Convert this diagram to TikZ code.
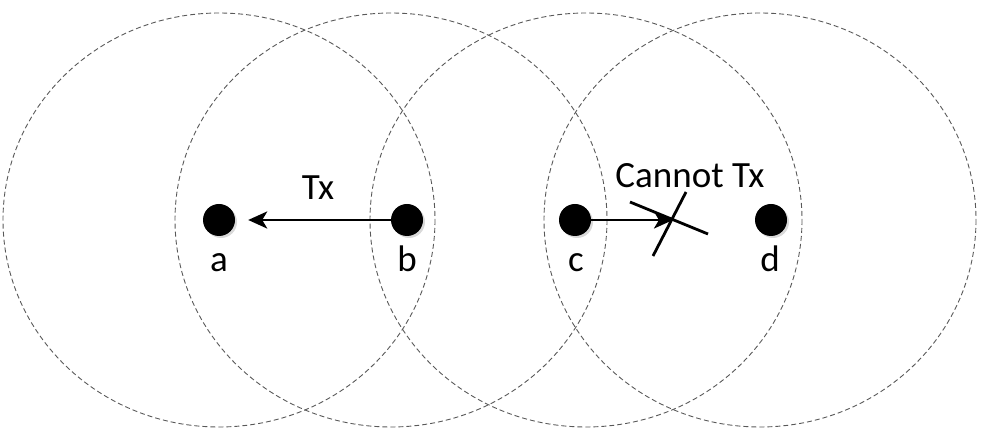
\documentclass[tikz,border=0pt]{standalone}
\usepackage{fontspec}
\setmainfont{Carlito}
\usetikzlibrary{arrows.meta}
\begin{document}
\begin{tikzpicture}[x=1pt,y=-1pt,
  rangering/.style={draw=black!65,line width=0.9pt,dash pattern=on 5pt off 3pt},
  nodedot/.style={circle,fill=black,minimum size=32pt,inner sep=0pt},
  dotshadow/.style={circle,fill=black!15,minimum size=32pt,inner sep=0pt},
  lbl/.style={font=\fontsize{37}{42}\selectfont,anchor=base,inner sep=0pt},
  txlink/.style={line width=2.8pt,-{Stealth[length=19pt,width=17pt,inset=5pt]}},
  crossline/.style={line width=2.8pt}]
\useasboundingbox (0,0) rectangle (991,435);
\draw[rangering] (219,220) ellipse [x radius=216, y radius=207];
\draw[rangering] (391,220) ellipse [x radius=216, y radius=207];
\draw[rangering] (586,220) ellipse [x radius=216, y radius=207];
\draw[rangering] (760,220) ellipse [x radius=216, y radius=207];
\node[dotshadow] (sa) at (221,222) {};
\node[dotshadow] (sb) at (409,222) {};
\node[dotshadow] (sc) at (577,222) {};
\node[dotshadow] (sd) at (773,222) {};
\node[nodedot] (a) at (219,220) {};
\node[nodedot] (b) at (407,220) {};
\node[nodedot] (c) at (575,220) {};
\node[nodedot] (d) at (771,220) {};
\node[lbl] (la) at (219,272) {a};
\node[lbl] (lb) at (407,272) {b};
\node[lbl] (lc) at (576,272) {c};
\node[lbl] (ld) at (770,272) {d};
\draw[txlink,shorten >=13pt] (b.west) -- (a.east);
\node[lbl] (tx) at (318,200) {Tx};
\coordinate (cend) at (673,220);
\draw[txlink] (c.east) -- (cend);
\coordinate (k1) at (630,202);
\coordinate (k2) at (708,234);
\coordinate (k3) at (686,192);
\coordinate (k4) at (653,256);
\draw[crossline] (k1) -- (k2);
\draw[crossline] (k3) -- (k4);
\node[lbl] (ctx) at (690,188) {Cannot Tx};
\end{tikzpicture}
\end{document}
